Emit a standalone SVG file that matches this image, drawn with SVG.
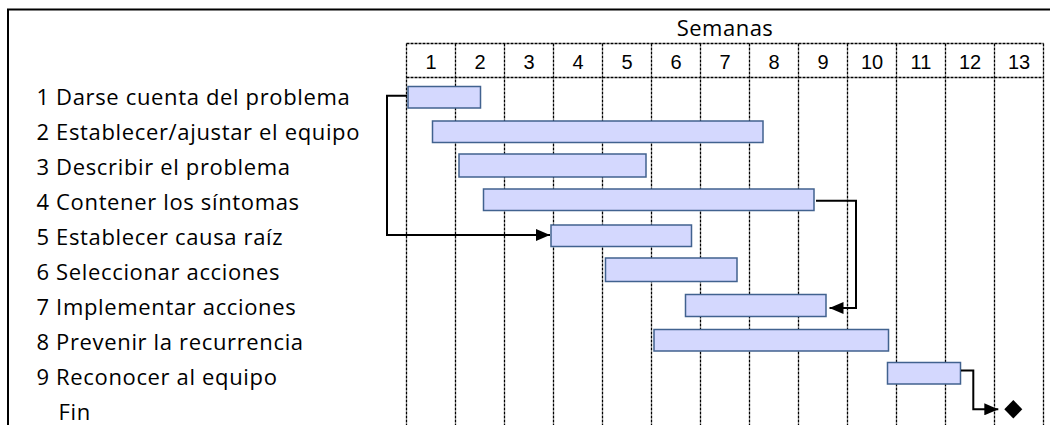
<svg xmlns="http://www.w3.org/2000/svg" width="1050" height="425" viewBox="0 0 1050 425">
  <style>
    .frame { fill: none; stroke: #000; stroke-width: 2; }
    .grid line { stroke: #000; stroke-width: 1.3; stroke-dasharray: 3 1; }
    .label { font-family: "Open Sans", "Liberation Sans", sans-serif; font-size: 22px; letter-spacing: 0.65px; fill: #000; }
    .title { font-family: "Open Sans", "Liberation Sans", sans-serif; font-size: 22px; letter-spacing: 0.5px; fill: #000; text-anchor: middle; }
    .week { font-family: "Liberation Sans", Arial, sans-serif; font-size: 20px; fill: #000; text-anchor: middle; }
    .bar { fill: #D4D8FE; stroke: #41628F; stroke-width: 1.5; }
    .link { fill: none; stroke: #000; stroke-width: 2; }
  </style>
  <defs>
    <marker id="arrow" viewBox="0 0 14 12" refX="14" refY="6" markerWidth="14" markerHeight="12" markerUnits="userSpaceOnUse" orient="auto">
      <path d="M0,0 L14,6 L0,12 Z" fill="#000"/>
    </marker>
  </defs>

  <rect width="1050" height="425" fill="#fff"/>
  <path class="frame" d="M8,426 V9.5 H1050"/>

  <!-- week header and grid -->
  <g id="timeline">
    <text class="title" x="725" y="35.5">Semanas</text>
    <g class="grid">
      <line x1="406.5" y1="43.5" x2="1043.5" y2="43.5"/>
      <line x1="406.5" y1="77.5" x2="1043.5" y2="77.5"/>
      <line x1="406.5" y1="43.5" x2="406.5" y2="425"/>
      <line x1="455.5" y1="43.5" x2="455.5" y2="425"/>
      <line x1="504.5" y1="43.5" x2="504.5" y2="425"/>
      <line x1="553.5" y1="43.5" x2="553.5" y2="425"/>
      <line x1="602.5" y1="43.5" x2="602.5" y2="425"/>
      <line x1="651.5" y1="43.5" x2="651.5" y2="425"/>
      <line x1="700.5" y1="43.5" x2="700.5" y2="425"/>
      <line x1="749.5" y1="43.5" x2="749.5" y2="425"/>
      <line x1="798.5" y1="43.5" x2="798.5" y2="425"/>
      <line x1="847.5" y1="43.5" x2="847.5" y2="425"/>
      <line x1="896.5" y1="43.5" x2="896.5" y2="425"/>
      <line x1="945.5" y1="43.5" x2="945.5" y2="425"/>
      <line x1="994.5" y1="43.5" x2="994.5" y2="425"/>
      <line x1="1043.5" y1="43.5" x2="1043.5" y2="425"/>
    </g>
    <text class="week" x="431" y="69">1</text>
    <text class="week" x="480" y="69">2</text>
    <text class="week" x="529" y="69">3</text>
    <text class="week" x="578" y="69">4</text>
    <text class="week" x="627" y="69">5</text>
    <text class="week" x="676" y="69">6</text>
    <text class="week" x="725" y="69">7</text>
    <text class="week" x="774" y="69">8</text>
    <text class="week" x="823" y="69">9</text>
    <text class="week" x="872" y="69">10</text>
    <text class="week" x="921" y="69">11</text>
    <text class="week" x="970" y="69">12</text>
    <text class="week" x="1019" y="69">13</text>
  </g>

  <!-- tasks: label + bar -->
  <g id="task1"><text class="label" x="36.5" y="105">1 Darse cuenta del problema</text><rect class="bar" x="408" y="86.5" width="72.5" height="21.5"/></g>
  <g id="task2"><text class="label" x="36.5" y="140">2 Establecer/ajustar el equipo</text><rect class="bar" x="432.5" y="121" width="330.5" height="21.5"/></g>
  <g id="task3"><text class="label" x="36.5" y="175">3 Describir el problema</text><rect class="bar" x="459" y="154" width="187" height="23"/></g>
  <g id="task4"><text class="label" x="36.5" y="210">4 Contener los síntomas</text><rect class="bar" x="483.5" y="189" width="330.5" height="21.5"/></g>
  <g id="task5"><text class="label" x="36.5" y="245">5 Establecer causa raíz</text><rect class="bar" x="551" y="225" width="140.5" height="21.5"/></g>
  <g id="task6"><text class="label" x="36.5" y="280">6 Seleccionar acciones</text><rect class="bar" x="605.5" y="258" width="131.5" height="23.5"/></g>
  <g id="task7"><text class="label" x="36.5" y="315">7 Implementar acciones</text><rect class="bar" x="685.5" y="294.5" width="140.5" height="22"/></g>
  <g id="task8"><text class="label" x="36.5" y="350">8 Prevenir la recurrencia</text><rect class="bar" x="654" y="329.5" width="234.5" height="21.5"/></g>
  <g id="task9"><text class="label" x="36.5" y="385">9 Reconocer al equipo</text><rect class="bar" x="887.5" y="362.5" width="73" height="21.5"/></g>
  <g id="end"><text class="label" x="58.5" y="420">Fin</text><path d="M1013.3,400 L1022.3,409.3 L1013.3,418.6 L1004.3,409.3 Z" fill="#000"/></g>

  <!-- dependency connectors -->
  <g id="connectors">
    <path class="link" marker-end="url(#arrow)" d="M407,95.7 H387 V235 H550"/>
    <path class="link" marker-end="url(#arrow)" d="M816,200.7 H856 V308 H829.5"/>
    <path class="link" marker-end="url(#arrow)" d="M961,370.5 H973.3 V409.3 H998.3"/>
  </g>
</svg>
